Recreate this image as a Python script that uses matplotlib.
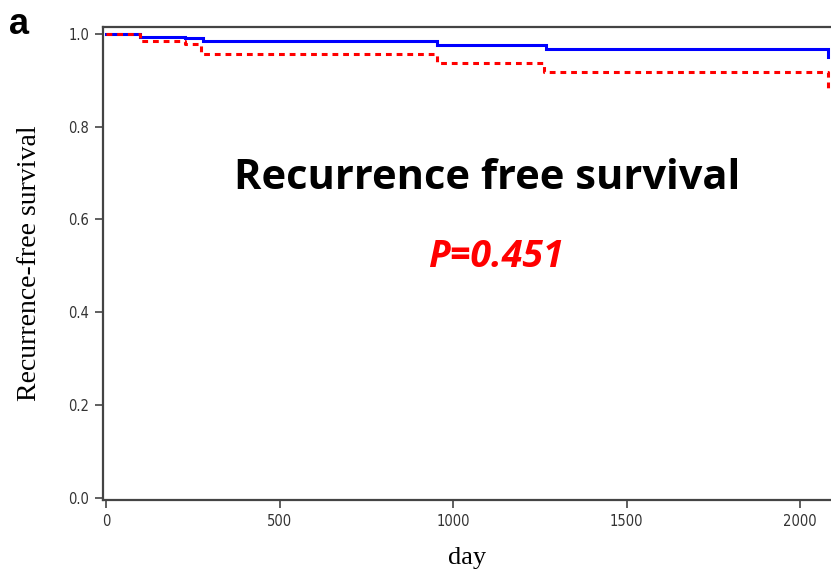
import matplotlib
matplotlib.use("Agg")
import matplotlib.pyplot as plt

# Kaplan-Meier step data
blue_days = [0, 98, 227, 280, 955, 1268, 2081]
blue_surv = [1.0, 0.994, 0.991, 0.985, 0.976, 0.968, 0.951]
red_days = [0, 98, 227, 274, 953, 1263, 2081]
red_surv = [1.0, 0.984, 0.978, 0.956, 0.937, 0.919, 0.877]

x_ticks = [0, 500, 1000, 1500, 2000]
y_ticks = [0.0, 0.2, 0.4, 0.6, 0.8, 1.0]

W, H = 831, 570
fig = plt.figure(figsize=(W / 100, H / 100), dpi=100)
ax = fig.add_axes([103 / W, (H - 500) / H, (831 - 103) / W, (500 - 27) / H])

ax.step(blue_days, blue_surv, where="post", color="#0000ff", lw=2.2, solid_joinstyle="miter")
ax.step(red_days, red_surv, where="post", color="#ff0000", lw=2.2,
        linestyle=(0, (1.9, 1.6)))

ax.set_xlim(-8.6, 2089)
ax.set_ylim(-0.005, 1.015)
ax.set_xticks(x_ticks)
ax.set_yticks(y_ticks)
ax.set_xticklabels([str(v) for v in x_ticks])
ax.set_yticklabels([f"{v:.1f}" for v in y_ticks])

for side in ["left", "bottom", "top"]:
    ax.spines[side].set_color("#444444")
    ax.spines[side].set_linewidth(1.6)
ax.spines["right"].set_visible(False)

ax.tick_params(axis="both", direction="out", length=6, width=1.2, color="#444444",
               labelsize=10.5, labelcolor="#333333", pad=4)
for lab in ax.get_xticklabels() + ax.get_yticklabels():
    lab.set_fontstretch("condensed")
    lab.set_family("DejaVu Sans")

ax.set_ylabel("Recurrence-free survival", family="Liberation Serif", fontsize=20, labelpad=19)
ax.set_xlabel("day", family="Liberation Serif", fontsize=19, labelpad=13)

fig.text(487 / W, 1 - 178 / H, "Recurrence free survival", family="Open Sans",
         fontweight="bold", fontsize=30, ha="center", va="center", color="black")
fig.text(496 / W, 1 - 257 / H, "P=0.451", family="Open Sans", fontweight="bold",
         fontstyle="italic", fontsize=27, ha="center", va="center", color="#ff0000")
fig.text(9 / W, 1 - 25 / H, "a", family="Liberation Sans", fontweight="bold",
         fontsize=26, ha="left", va="center", color="black")

fig.savefig("out.png", dpi=100)
